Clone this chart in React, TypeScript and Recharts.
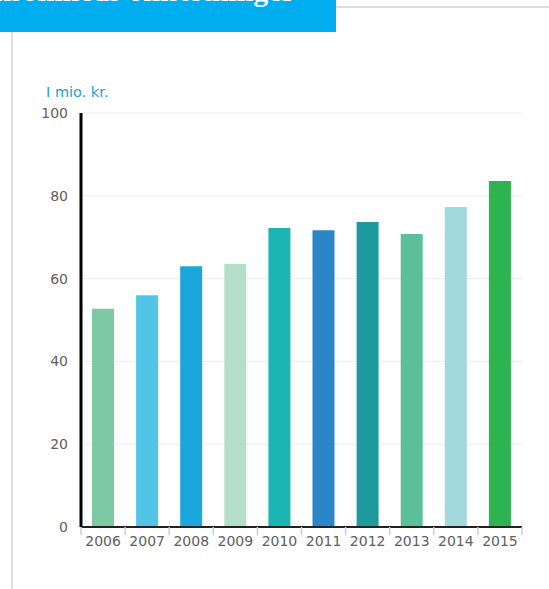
import { Bar, BarChart, CartesianGrid, Cell, XAxis, YAxis } from "recharts";

const years = ["2006", "2007", "2008", "2009", "2010", "2011", "2012", "2013", "2014", "2015"];
const values = [52.7, 56.0, 63.0, 63.5, 72.2, 71.7, 73.7, 70.8, 77.3, 83.6];
const barColors = [
  "#7DC9A4",
  "#50C5E6",
  "#1BA6DC",
  "#B3DFC9",
  "#1AB4B3",
  "#2B86C7",
  "#1E9A9E",
  "#5BBF9B",
  "#A2D9DC",
  "#2DB34F",
];
const yTicks = [0, 20, 40, 60, 80, 100];

const data = years.map((year, i) => ({ year, value: values[i] }));

const PLOT_LEFT = 81;
const PLOT_RIGHT = 522;
const band = (PLOT_RIGHT - PLOT_LEFT) / years.length;

function YearTick(props: any) {
  const { x, y, payload, index } = props;
  const left = x - band / 2;
  return (
    <g>
      <line x1={left} y1={y - 8} x2={left} y2={y} stroke="#C0D0E0" strokeWidth={1.5} />
      {index === years.length - 1 && (
        <line x1={left + band} y1={y - 8} x2={left + band} y2={y} stroke="#C0D0E0" strokeWidth={1.5} />
      )}
      <text x={x} y={y + 11} textAnchor="middle" fill="#606060" fontSize={14} fontFamily="DejaVu Sans">
        {payload.value}
      </text>
    </g>
  );
}

export default function App() {
  return (
    <div
      style={{
        position: "absolute",
        left: 0,
        top: 0,
        width: 549,
        height: 589,
        background: "#fff",
        overflow: "hidden",
      }}
    >
      <div
        style={{
          position: "absolute",
          left: 0,
          top: 0,
          width: 336,
          height: 32,
          background: "#00AEEF",
          overflow: "hidden",
        }}
      >
        <div
          style={{
            position: "absolute",
            right: 41,
            top: -26,
            whiteSpace: "nowrap",
            color: "#fff",
            fontFamily: "Liberation Serif",
            fontWeight: "bold",
            fontSize: 30,
            lineHeight: "34px",
          }}
        >
          Virksomheds omsætninger
        </div>
      </div>
      <div style={{ position: "absolute", left: 336, top: 6, width: 213, height: 2, background: "#DDD" }} />
      <div style={{ position: "absolute", left: 11, top: 32, width: 2, height: 557, background: "#DDD" }} />
      <div
        style={{
          position: "absolute",
          left: 46,
          top: 84,
          color: "#1BA0DA",
          fontFamily: "DejaVu Sans",
          fontSize: 14.5,
        }}
      >
        I mio. kr.
      </div>
      <BarChart
        width={549}
        height={589}
        data={data}
        margin={{ top: 113, right: 549 - PLOT_RIGHT, bottom: 32, left: 0 }}
      >
        <CartesianGrid vertical={false} stroke="#EBEBEB" />
        <YAxis
          width={PLOT_LEFT}
          domain={[0, 100]}
          ticks={yTicks}
          axisLine={{ stroke: "#000", strokeWidth: 3 }}
          tickLine={false}
          tick={{ fill: "#606060", fontSize: 14, fontFamily: "DejaVu Sans", dx: -5 }}
        />
        <XAxis
          dataKey="year"
          height={30}
          axisLine={{ stroke: "#222", strokeWidth: 2 }}
          tickLine={false}
          interval={0}
          tick={<YearTick />}
        />
        <Bar dataKey="value" barSize={22} isAnimationActive={false}>
          {data.map((d, i) => (
            <Cell key={d.year} fill={barColors[i]} />
          ))}
        </Bar>
      </BarChart>
    </div>
  );
}
